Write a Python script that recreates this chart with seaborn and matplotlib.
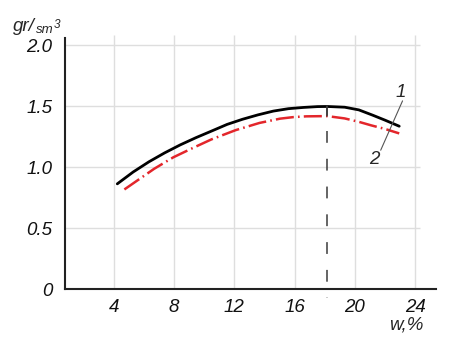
import numpy as np
import pandas as pd
import matplotlib
matplotlib.use("Agg")
import matplotlib.pyplot as plt
import seaborn as sns

# ---- data ----
w_1 = [4.23, 5.28, 6.33, 7.37, 8.41, 9.45, 10.48, 11.52, 12.54, 13.56, 14.58, 15.59,
       16.57, 17.52, 18.16, 19.32, 20.26, 21.19, 22.01, 22.94]
rho_1 = [0.863, 0.960, 1.044, 1.117, 1.183, 1.242, 1.296, 1.351, 1.393, 1.429, 1.460, 1.480,
         1.490, 1.497, 1.498, 1.492, 1.470, 1.426, 1.385, 1.336]
w_2 = [4.70, 5.74, 6.67, 7.95, 9.22, 10.48, 12.09, 13.67, 15.03, 15.93, 16.78,
       18.16, 19.32, 20.26, 21.08, 22.01, 22.94]
rho_2 = [0.817, 0.906, 0.986, 1.081, 1.156, 1.228, 1.304, 1.363, 1.398, 1.411, 1.417,
         1.419, 1.400, 1.372, 1.343, 1.313, 1.277]
w_opt = 18.16
x_ticks = [4, 8, 12, 16, 20, 24]
y_ticks = [0, 0.5, 1.0, 1.5, 2.0]
y_tick_labels = ["0", "0.5", "1.0", "1.5", "2.0"]

sns.set_style("white")
plt.rcParams["font.family"] = ["Liberation Sans", "DejaVu Sans"]
plt.rcParams["lines.scale_dashes"] = False

W, H = 471, 342
fig = plt.figure(figsize=(W / 100, H / 100), dpi=100)
ax = fig.add_axes([65 / W, 1 - 289 / H, 371 / W, (289 - 38) / H])

xlim = (0.76, 25.38)
ylim = (0, 2.06)

# grid
ax.hlines(y_ticks[1:], xlim[0], 24.3, color="#dedede", lw=1, zorder=0)
ax.vlines(x_ticks, 0, 2.085, color="#dedede", lw=1, zorder=0, clip_on=False)

# curves
d1 = pd.DataFrame({"w": w_1, "rho": rho_1})
d2 = pd.DataFrame({"w": w_2, "rho": rho_2})
sns.lineplot(data=d1, x="w", y="rho", ax=ax, color="black", lw=2.0)
ax.lines[-1].set_solid_joinstyle("round")
sns.lineplot(data=d2, x="w", y="rho", ax=ax, color="#e3262b", lw=1.8)
ax.lines[-1].set_linestyle((0, (13, 3, 1.2, 3)))

# optimum dashed vertical
ax.plot([w_opt, w_opt], [max(rho_1), -0.075], color="#3a3a3a", lw=1.1,
        linestyle=(2, (8.5, 11.5)), clip_on=False, zorder=3)
ax.plot([w_opt, w_opt], [max(rho_1), max(rho_2)], color="#3a3a3a", lw=1.1, zorder=3)

ax.set_xlim(*xlim)
ax.set_ylim(*ylim)

# labels 1 and 2 with leader line
ax.plot([23.16, 21.71], [1.544, 1.139], color="#555555", lw=0.8, clip_on=False)
ax.text(23.06, 1.615, "1", fontsize=13.5, fontstyle="italic", ha="center", va="center")
ax.text(21.26, 1.063, "2", fontsize=13.5, fontstyle="italic", ha="center", va="center")

# ticks
ax.set_xticks(x_ticks)
ax.set_xticklabels([str(t) for t in x_ticks], fontsize=13.5, fontstyle="italic")
ax.set_yticks(y_ticks)
ax.set_yticklabels(y_tick_labels, fontsize=13.5, fontstyle="italic")
ax.tick_params(axis="x", length=0, pad=7, colors="#111111")
ax.tick_params(axis="y", length=5.5, width=1, pad=3.5, color="#777777", labelcolor="#111111")
ax.set_xlabel("")
ax.set_ylabel("")

for s in ["top", "right"]:
    ax.spines[s].set_visible(False)
for s in ["left", "bottom"]:
    ax.spines[s].set_color("#222222")
    ax.spines[s].set_linewidth(1.5)

# axis titles
fig.text(13 / W, 1 - 31 / H, "gr/", fontsize=13.5, fontstyle="italic", ha="left", va="baseline")
fig.text(36 / W, 1 - 33 / H, "sm", fontsize=9.5, fontstyle="italic", ha="left", va="baseline")
fig.text(54 / W, 1 - 27.5 / H, "3", fontsize=8.5, fontstyle="italic", ha="left", va="baseline")
fig.text(423 / W, 1 - 329 / H, "w,%", fontsize=13.5, fontstyle="italic", ha="right", va="baseline")

fig.savefig("out.png", dpi=100)
